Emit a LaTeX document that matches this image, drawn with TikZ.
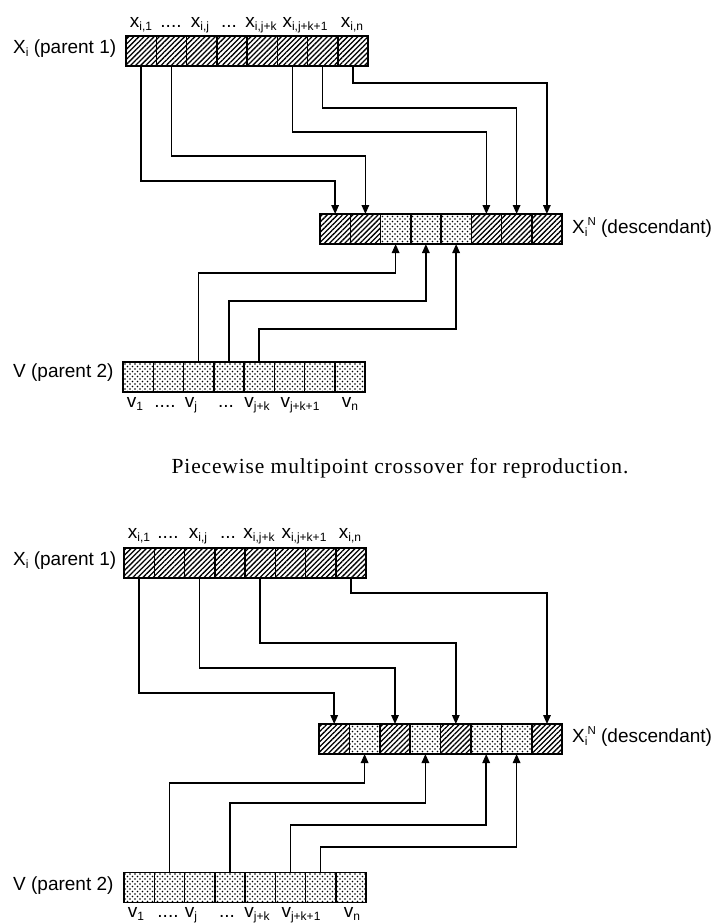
\documentclass[tikz,border=0pt]{standalone}
\usepackage{fontspec}
\setmainfont{Liberation Sans}
\newfontfamily\capfont[LetterSpace=4]{Liberation Serif}
\usetikzlibrary{patterns.meta,arrows.meta}
\newcommand{\mysub}[1]{\raisebox{-3.5pt}{\fontsize{12}{12}\selectfont #1}}
\newcommand{\mysup}[1]{\raisebox{8pt}{\fontsize{11.5}{12}\selectfont #1}}
\tikzset{
  cellbase/.style={draw, line width=1.5pt, minimum width=30.25pt, minimum height=30pt, inner sep=0pt, outer sep=0pt},
  hcell/.style={cellbase, pattern={Lines[angle=45,distance=3.6pt,line width=1.3pt]}},
  dcell/.style={cellbase, preaction={pattern={Dots[distance=5pt,radius=0.85pt]}},
                pattern={Dots[distance=5pt,radius=0.85pt,xshift=2.5pt,yshift=2.5pt]}},
  conn/.style={line width=1.5pt, -{Triangle[length=9pt,width=7.5pt]}},
  lbl/.style={font=\fontsize{19}{20}\selectfont, inner sep=0pt, anchor=base},
  side/.style={lbl, anchor=base west},
  captext/.style={font=\fontsize{21.5}{23}\capfont, inner sep=0pt, anchor=base},
}
\begin{document}
\begin{tikzpicture}[x=1pt,y=-1pt]
\useasboundingbox[fill=white] (0,0) rectangle (718,924);

% ---------- top diagram ----------
\foreach \i in {1,...,8} \node[hcell] (ta\i) at ({126+30.25*(\i-0.5)},51) {};
\foreach \i in {1,...,8} \node[dcell] (tb\i) at ({123+30.25*(\i-0.5)},377) {};
\node[hcell] (td1) at ({320+30.25*0.5},229) {};
\node[hcell] (td2) at ({320+30.25*1.5},229) {};
\node[dcell] (td3) at ({320+30.25*2.5},229) {};
\node[dcell] (td4) at ({320+30.25*3.5},229) {};
\node[dcell] (td5) at ({320+30.25*4.5},229) {};
\node[hcell] (td6) at ({320+30.25*5.5},229) {};
\node[hcell] (td7) at ({320+30.25*6.5},229) {};
\node[hcell] (td8) at ({320+30.25*7.5},229) {};

\node[lbl] (tl1) at (141,27) {x\mysub{i,1}};
\node[lbl] (tl2) at (171,27) {....};
\node[lbl] (tl3) at (200,27) {x\mysub{i,j}};
\node[lbl] (tl4) at (229,27) {...};
\node[lbl] (tl5) at (261,27) {x\mysub{i,j+k}};
\node[lbl] (tl6) at (305,27) {x\mysub{i,j+k+1}};
\node[lbl] (tl7) at (352,27) {x\mysub{i,n}};

\node[lbl] (tv1) at (135,407) {v\mysub{1}};
\node[lbl] (tv2) at (165,407) {....};
\node[lbl] (tv3) at (191,407) {v\mysub{j}};
\node[lbl] (tv4) at (226,407) {...};
\node[lbl] (tv5) at (257,407) {v\mysub{j+k}};
\node[lbl] (tv6) at (300,407) {v\mysub{j+k+1}};
\node[lbl] (tv7) at (350,407) {v\mysub{n}};

\node[side] (tp1) at (13,53) {X\mysub{i} (parent 1)};
\node[side] (tp2) at (13,377) {V (parent 2)};
\node[side] (tdl) at (572,233) {X\mysub{i}\mysup{N} (descendant)};

\draw[conn] (ta1.south) -- (ta1.south |- 0,181) -| (td1.north);
\draw[conn] (ta2.south) -- (ta2.south |- 0,156) -| (td2.north);
\draw[conn] (ta6.south) -- (ta6.south |- 0,132) -| (td6.north);
\draw[conn] (ta7.south) -- (ta7.south |- 0,108) -| (td7.north);
\draw[conn] (ta8.south) -- (ta8.south |- 0,83) -| (td8.north);
\draw[conn] (tb3.north) -- (tb3.north |- 0,273) -| (td3.south);
\draw[conn] (tb4.north) -- (tb4.north |- 0,301) -| (td4.south);
\draw[conn] (tb5.north) -- (tb5.north |- 0,329) -| (td5.south);

\node[captext] (caption) at (400,473) {Piecewise multipoint crossover for reproduction.};

% ---------- bottom diagram ----------
\foreach \i in {1,...,8} \node[hcell] (ba\i) at ({124+30.25*(\i-0.5)},563) {};
\foreach \i in {1,...,8} \node[dcell] (bb\i) at ({124+30.25*(\i-0.5)},887.5) {};
\node[hcell] (bd1) at ({319+30.4*0.5},739) {};
\node[dcell] (bd2) at ({319+30.4*1.5},739) {};
\node[hcell] (bd3) at ({319+30.4*2.5},739) {};
\node[dcell] (bd4) at ({319+30.4*3.5},739) {};
\node[hcell] (bd5) at ({319+30.4*4.5},739) {};
\node[dcell] (bd6) at ({319+30.4*5.5},739) {};
\node[dcell] (bd7) at ({319+30.4*6.5},739) {};
\node[hcell] (bd8) at ({319+30.4*7.5},739) {};

\node[lbl] (bl1) at (139,538) {x\mysub{i,1}};
\node[lbl] (bl2) at (168,538) {....};
\node[lbl] (bl3) at (198,538) {x\mysub{i,j}};
\node[lbl] (bl4) at (228,538) {...};
\node[lbl] (bl5) at (259,538) {x\mysub{i,j+k}};
\node[lbl] (bl6) at (304,538) {x\mysub{i,j+k+1}};
\node[lbl] (bl7) at (350,538) {x\mysub{i,n}};

\node[lbl] (bv1) at (136,917) {v\mysub{1}};
\node[lbl] (bv2) at (168,917) {....};
\node[lbl] (bv3) at (191,917) {v\mysub{j}};
\node[lbl] (bv4) at (227,917) {...};
\node[lbl] (bv5) at (257,917) {v\mysub{j+k}};
\node[lbl] (bv6) at (301,917) {v\mysub{j+k+1}};
\node[lbl] (bv7) at (352,917) {v\mysub{n}};

\node[side] (bp1) at (13,565) {X\mysub{i} (parent 1)};
\node[side] (bp2) at (13,890) {V (parent 2)};
\node[side] (bdl) at (572,742) {X\mysub{i}\mysup{N} (descendant)};

\draw[conn] (ba1.south) -- (ba1.south |- 0,693) -| (bd1.north);
\draw[conn] (ba3.south) -- (ba3.south |- 0,668) -| (bd3.north);
\draw[conn] (ba5.south) -- (ba5.south |- 0,643) -| (bd5.north);
\draw[conn] (ba8.south) -- (ba8.south |- 0,593) -| (bd8.north);
\draw[conn] (bb2.north) -- (bb2.north |- 0,783) -| (bd2.south);
\draw[conn] (bb4.north) -- (bb4.north |- 0,803) -| (bd4.south);
\draw[conn] (bb6.north) -- (bb6.north |- 0,825) -| (bd6.south);
\draw[conn] (bb7.north) -- (bb7.north |- 0,847) -| (bd7.south);
\end{tikzpicture}
\end{document}
